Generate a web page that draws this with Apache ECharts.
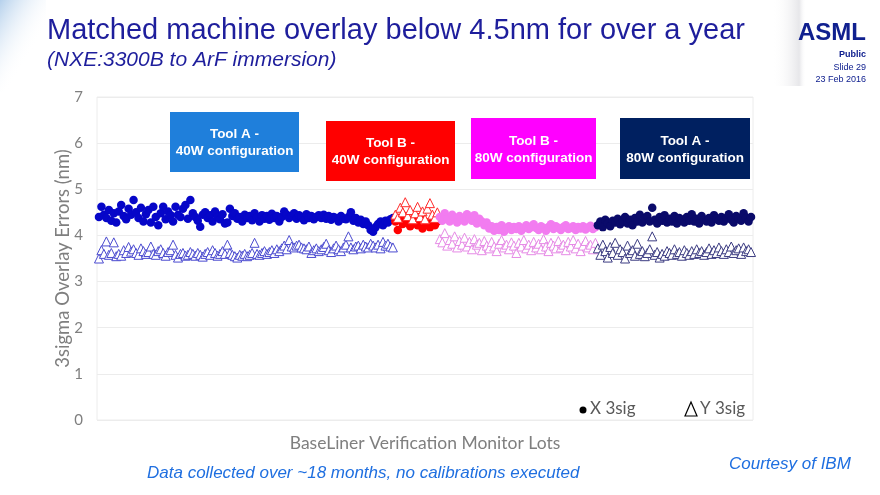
<!DOCTYPE html>
<html>
<head>
<meta charset="utf-8">
<script src="https://cdn.jsdelivr.net/npm/echarts@6/dist/echarts.min.js"></script>
<style>
html,body{margin:0;padding:0;background:#fff;}
#chart{width:880px;height:495px;}
</style>
</head>
<body>
<div id="chart"></div>
<script>
// ---- Data (3sigma overlay errors, nm) ----
var yTicks = [0, 1, 2, 3, 4, 5, 6, 7];
var toolA40X = [4.40,4.62,4.45,4.38,4.55,4.32,4.48,4.28,4.52,4.66,
  4.42,4.35,4.58,4.45,4.77,4.50,4.38,4.60,4.30,4.46,
  4.55,4.28,4.62,4.40,4.22,4.48,4.62,4.35,4.52,4.44,
  4.30,4.62,4.45,4.40,4.58,4.66,4.36,4.77,4.48,4.40,
  4.32,4.19,4.45,4.50,4.38,4.44,4.30,4.52,4.40,4.35,
  4.46,4.26,4.28,4.58,4.42,4.48,4.36,4.40,4.30,4.45,
  4.38,4.42,4.33,4.48,4.40,4.30,4.44,4.36,4.42,4.34,
  4.47,4.38,4.42,4.30,4.40,4.52,4.45,4.38,4.42,4.48,
  4.36,4.44,4.40,4.33,4.46,4.38,4.42,4.35,4.40,4.44,
  4.38,4.45,4.36,4.42,4.34,4.40,4.38,4.30,4.42,4.36,
  4.35,4.40,4.50,4.32,4.38,4.28,4.34,4.25,4.30,4.22,
  4.12,4.08,4.18,4.25,4.30,4.22,4.32,4.28,4.35,4.38];
var toolA40Y = [3.50,3.68,3.60,3.87,3.58,3.62,3.85,3.55,3.60,3.56,
  3.68,3.62,3.75,3.65,3.70,3.62,3.58,3.72,3.66,3.60,
  3.64,3.76,3.60,3.58,3.66,3.70,3.62,3.56,3.64,3.68,
  3.80,3.58,3.52,3.60,3.62,3.56,3.58,3.64,3.60,3.56,
  3.62,3.58,3.54,3.60,3.64,3.58,3.68,3.62,3.56,3.60,
  3.66,3.60,3.80,3.62,3.58,3.55,3.52,3.58,3.56,3.60,
  3.55,3.58,3.62,3.84,3.60,3.58,3.62,3.66,3.60,3.64,
  3.68,3.62,3.70,3.66,3.72,3.78,3.70,3.90,3.76,3.74,
  3.78,3.80,3.74,3.72,3.70,3.76,3.62,3.68,3.72,3.66,
  3.70,3.75,3.82,3.68,3.64,3.72,3.78,3.70,3.66,3.74,
  3.80,3.98,3.74,3.70,3.76,3.78,3.72,3.80,3.76,3.74,
  3.82,3.78,3.74,3.80,3.72,3.86,3.78,3.82,3.76,3.74];
var toolB40X = [4.30,4.12,4.38,4.25,4.42,4.30,4.20,4.35,4.28,4.22,4.40,4.15,4.30,4.25,4.18,4.32,4.22,4.30];
var toolB40Y = [4.45,4.38,4.60,4.50,4.72,4.42,4.55,4.35,4.48,4.62,4.40,4.52,4.35,4.58,4.70,4.45,4.38,4.50];
var toolB80X = [4.40,4.32,4.48,4.36,4.30,4.45,4.38,4.28,4.42,4.35,
  4.30,4.46,4.38,4.32,4.44,4.26,4.36,4.30,4.22,4.28,
  4.15,4.20,4.10,4.18,4.12,4.22,4.08,4.16,4.20,4.12,
  4.18,4.14,4.20,4.10,4.16,4.22,4.14,4.18,4.24,4.16,
  4.12,4.20,4.16,4.10,4.18,4.24,4.14,4.20,4.16,4.12,
  4.18,4.22,4.14,4.16,4.20,4.12,4.18,4.15,4.20,4.13,4.17,4.21,4.14,4.18];
var toolB80Y = [3.92,3.85,4.05,3.78,3.90,3.82,3.98,3.74,3.88,3.80,
  3.95,3.76,3.86,3.70,3.92,3.80,3.84,3.68,3.88,3.78,
  3.72,3.86,3.76,3.66,3.82,3.90,3.74,3.80,3.70,3.85,
  3.78,3.62,3.84,3.76,3.90,3.72,3.80,3.68,3.86,3.74,
  3.82,3.70,3.92,3.76,3.66,3.84,3.78,3.72,3.88,3.74,
  3.80,3.68,3.86,3.76,3.90,3.72,3.82,3.66,3.78,3.88,3.74,3.80,3.70,3.84];
var toolA80X = [4.22,4.30,4.18,4.34,4.26,4.20,4.32,4.28,4.36,4.24,
  4.30,4.40,4.26,4.34,4.22,4.38,4.30,4.45,4.28,4.36,
  4.42,4.30,4.60,4.34,4.26,4.40,4.32,4.44,4.28,4.36,
  4.30,4.42,4.26,4.38,4.34,4.28,4.40,4.32,4.46,4.30,
  4.36,4.26,4.42,4.34,4.30,4.38,4.28,4.44,4.36,4.32,
  4.40,4.30,4.38,4.46,4.34,4.28,4.42,4.36,4.32,4.48,4.38,4.30,4.40];
var toolA80Y = [3.72,3.58,3.80,3.66,3.52,3.75,3.62,3.84,3.58,3.70,
  3.64,3.50,3.78,3.62,3.68,3.56,3.82,3.60,3.66,3.55,
  3.62,3.70,3.98,3.58,3.64,3.52,3.60,3.56,3.66,3.62,
  3.58,3.70,3.60,3.64,3.56,3.68,3.62,3.58,3.66,3.60,
  3.70,3.62,3.66,3.58,3.64,3.72,3.60,3.68,3.62,3.74,
  3.66,3.60,3.70,3.64,3.76,3.62,3.68,3.72,3.60,3.74,3.66,3.70,3.64];
var groupLine1 = ['Tool A -', 'Tool B -', 'Tool B -', 'Tool A -'];
var groupLine2 = ['40W configuration', '40W configuration', '80W configuration', '80W configuration'];

// ---- Build index-based points ----
var groups = [
  {x: toolA40X, y: toolA40Y, cx: '#0606C8', cy: '#4B4BD0'},
  {x: toolB40X, y: toolB40Y, cx: '#FF0000', cy: '#FF2A2A'},
  {x: toolB80X, y: toolB80Y, cx: '#F27CF0', cy: '#E68AE6'},
  {x: toolA80X, y: toolA80Y, cx: '#0A0A6A', cy: '#3C3C82'}
];
var series = [];
var offset = 0;
groups.forEach(function (g) {
  var dx = g.x.map(function (v, i) { return [offset + i, v]; });
  var dy = g.y.map(function (v, i) { return [offset + i, v]; });
  series.push({type: 'scatter', data: dx, symbol: 'circle', symbolSize: 8.5,
    itemStyle: {color: g.cx, opacity: 1}, silent: true});
  series.push({type: 'scatter', data: dy, symbol: 'triangle', symbolSize: 9,
    itemStyle: {color: '#ffffff', borderColor: g.cy, borderWidth: 1, opacity: 1}, silent: true});
  offset += g.x.length;
});
var total = offset;

var boxes = [
  {x: 170, y: 112, w: 129, h: 60, c: '#1F7FDB', l1: 134, l2: 151},
  {x: 326, y: 121, w: 129, h: 60, c: '#FF0000', l1: 143, l2: 160},
  {x: 471, y: 118, w: 125, h: 61, c: '#FF00FF', l1: 141, l2: 158},
  {x: 620, y: 118, w: 130, h: 61, c: '#002060', l1: 141, l2: 158}
];
var boxFont = 'bold 13.5px "Liberation Sans", Arial, sans-serif';
var graphics = [];
// top-left decoration
graphics.push({type: 'rect', left: 0, top: 0, shape: {width: 46, height: 92},
  style: {fill: new echarts.graphic.LinearGradient(0, 0, 1, 0.3, [
    {offset: 0, color: 'rgba(120,170,220,0.55)'},
    {offset: 1, color: 'rgba(255,255,255,0)'}])}, silent: true});
// top-right gray shading
graphics.push({type: 'rect', left: 772, top: 0, shape: {width: 34, height: 86},
  style: {fill: new echarts.graphic.LinearGradient(0, 0, 1, 0, [
    {offset: 0, color: 'rgba(255,255,255,0)'},
    {offset: 0.8, color: 'rgba(215,215,220,0.6)'},
    {offset: 1, color: 'rgba(255,255,255,0)'}])}, silent: true});
boxes.forEach(function (b, i) {
  graphics.push({type: 'rect', left: b.x, top: b.y, z: 100, shape: {width: b.w, height: b.h},
    style: {fill: b.c}, silent: true});
  graphics.push({type: 'text', x: b.x + b.w / 2, y: b.l1, z: 101,
    style: {text: groupLine1[i], fill: '#ffffff', font: boxFont,
      align: 'center', verticalAlign: 'middle'}, silent: true});
  graphics.push({type: 'text', x: b.x + b.w / 2, y: b.l2, z: 101,
    style: {text: groupLine2[i], fill: '#ffffff', font: boxFont,
      align: 'center', verticalAlign: 'middle'}, silent: true});
});
// titles
graphics.push({type: 'text', left: 47, top: 16,
  style: {text: 'Matched machine overlay below 4.5nm for over a year', fill: '#1E1E9C',
    font: '29px "Liberation Sans", Arial, sans-serif'}});
graphics.push({type: 'text', left: 47, top: 50,
  style: {text: '(NXE:3300B to ArF immersion)', fill: '#1E1E9C',
    font: 'italic 21px "Liberation Sans", Arial, sans-serif'}});
graphics.push({type: 'text', right: 14, top: 21,
  style: {text: 'ASML', fill: '#10208F', font: 'bold 24px "Liberation Sans", Arial, sans-serif'}});
graphics.push({type: 'text', right: 14, top: 50,
  style: {text: 'Public', fill: '#10208F', font: 'bold 9px "Liberation Sans", Arial, sans-serif'}});
graphics.push({type: 'text', right: 14, top: 63,
  style: {text: 'Slide 29', fill: '#10208F', font: '9px "Liberation Sans", Arial, sans-serif'}});
graphics.push({type: 'text', right: 14, top: 75,
  style: {text: '23 Feb 2016', fill: '#10208F', font: '9px "Liberation Sans", Arial, sans-serif'}});
// legend
graphics.push({type: 'circle', shape: {cx: 583, cy: 410, r: 3.5}, style: {fill: '#000'}});
graphics.push({type: 'text', left: 590, top: 400,
  style: {text: 'X 3sig', fill: '#595959', font: '17px Lato, sans-serif'}});
graphics.push({type: 'polygon', shape: {points: [[685, 416], [697, 416], [691, 402]]},
  style: {fill: 'none', stroke: '#000', lineWidth: 1.2}});
graphics.push({type: 'text', left: 700, top: 400,
  style: {text: 'Y 3sig', fill: '#595959', font: '17px Lato, sans-serif'}});
// footer notes
graphics.push({type: 'text', left: 147, top: 465,
  style: {text: 'Data collected over ~18 months, no calibrations executed', fill: '#1F6FE0',
    font: 'italic 17px "Liberation Sans", Arial, sans-serif'}});
graphics.push({type: 'text', left: 729, top: 456,
  style: {text: 'Courtesy of IBM', fill: '#1F6FE0',
    font: 'italic 17px "Liberation Sans", Arial, sans-serif'}});

var chart = echarts.init(document.getElementById('chart'));
chart.setOption({
  animation: false,
  backgroundColor: '#ffffff',
  grid: {left: 97, right: 127, top: 97, bottom: 75, show: true, borderColor: '#ececec', borderWidth: 1},
  xAxis: {
    type: 'value', min: -0.8, max: total - 0.2,
    name: 'BaseLiner Verification Monitor Lots', nameLocation: 'middle', nameGap: 14,
    nameTextStyle: {color: '#7f7f7f', fontSize: 17.5, fontFamily: 'Lato'},
    axisLine: {show: false}, axisTick: {show: false}, axisLabel: {show: false}, splitLine: {show: false}
  },
  yAxis: {
    type: 'value', min: yTicks[0], max: yTicks[yTicks.length - 1], interval: 1,
    name: '3sigma Overlay Errors (nm)', nameLocation: 'middle', nameGap: 24, nameRotate: 90,
    nameMoveOverlap: false,
    nameTextStyle: {color: '#7f7f7f', fontSize: 18.5, fontFamily: 'Lato'},
    axisLine: {show: false}, axisTick: {show: false},
    axisLabel: {color: '#7f7f7f', fontSize: 15, fontFamily: 'Lato', margin: 14},
    splitLine: {lineStyle: {color: '#ececec', width: 1}}
  },
  series: series,
  graphic: graphics
});
</script>
</body>
</html>
